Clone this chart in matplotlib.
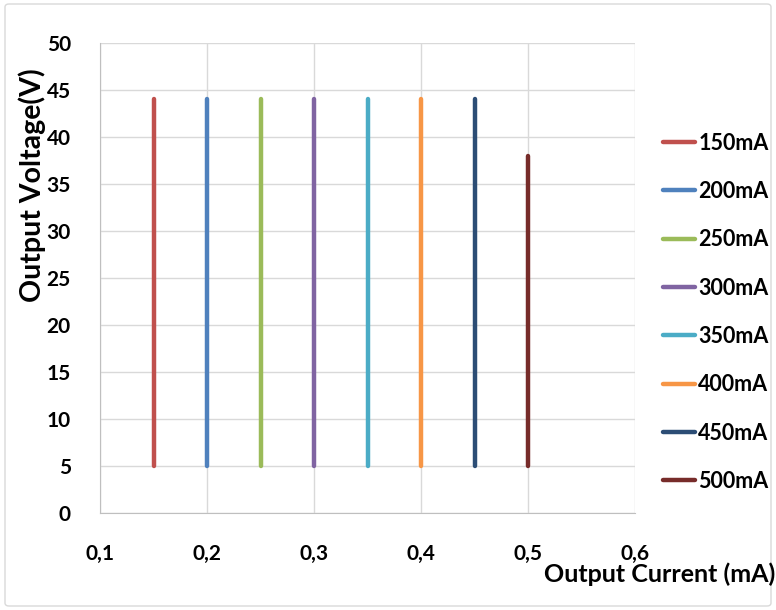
import matplotlib
matplotlib.use("Agg")
import matplotlib.pyplot as plt
from matplotlib.patches import FancyBboxPatch

labels = ["150mA", "200mA", "250mA", "300mA", "350mA", "400mA", "450mA", "500mA"]
currents = [0.15, 0.20, 0.25, 0.30, 0.35, 0.40, 0.45, 0.50]
v_low = [5, 5, 5, 5, 5, 5, 5, 5]
v_high = [44, 44, 44, 44, 44, 44, 44, 38]
colors = ["#C0504D", "#4F81BD", "#9BBB59", "#8064A2", "#4BACC6", "#F79646", "#2C4D75", "#772C2A"]
xticks = [0.1, 0.2, 0.3, 0.4, 0.5, 0.6]
xticklabels = ["0,1", "0,2", "0,3", "0,4", "0,5", "0,6"]
yticks = [0, 5, 10, 15, 20, 25, 30, 35, 40, 45, 50]

plt.rcParams['font.family'] = ['Lato', 'DejaVu Sans']
plt.rcParams['font.weight'] = 'bold'

W, H = 776, 610
fig = plt.figure(figsize=(W / 100, H / 100), dpi=100)
ax = fig.add_axes([100 / W, 1 - 513 / H, (635 - 100) / W, (513 - 43) / H])

for c, lo, hi, col, lab in zip(currents, v_low, v_high, colors, labels):
    ax.plot([c, c], [lo, hi], color=col, lw=3.2, solid_capstyle='round', label=lab)

ax.set_xlim(0.1, 0.6)
ax.set_ylim(0, 50)
ax.set_xticks(xticks)
ax.set_xticklabels(xticklabels)
ax.set_yticks(yticks)
ax.grid(True, color="#D9D9D9", lw=1)
ax.set_axisbelow(True)
for s in ["top", "right"]:
    ax.spines[s].set_visible(False)
for s in ["left", "bottom"]:
    ax.spines[s].set_color("#BFBFBF")
ax.tick_params(length=0, labelsize=15)
ax.tick_params(axis='y', pad=21)
ax.tick_params(axis='x', pad=22)
for t in ax.get_xticklabels() + ax.get_yticklabels():
    t.set_fontweight('bold')

fig.text(32 / W, 1 - 185 / H, "Output Voltage(V)", rotation=90, ha='center', va='center',
         fontsize=20.5, fontweight='bold')
fig.text(775 / W, 1 - 574 / H, "Output Current (mA)", ha='right', va='center',
         fontsize=18, fontweight='bold')

leg = fig.legend(loc='upper left', bbox_to_anchor=(654 / W, 1 - 124 / H), frameon=False,
                 fontsize=15.5, handlelength=1.5, handletextpad=0.15, labelspacing=1.27,
                 borderaxespad=0)
for t in leg.get_texts():
    t.set_fontweight('bold')

border = FancyBboxPatch((5 / W, 4 / H), 766 / W, 602 / H, boxstyle="round,pad=0,rounding_size=0.005",
                        transform=fig.transFigure, fill=False, edgecolor="#D9D9D9", lw=1)
fig.patches.append(border)

fig.savefig("out.png", dpi=100)
